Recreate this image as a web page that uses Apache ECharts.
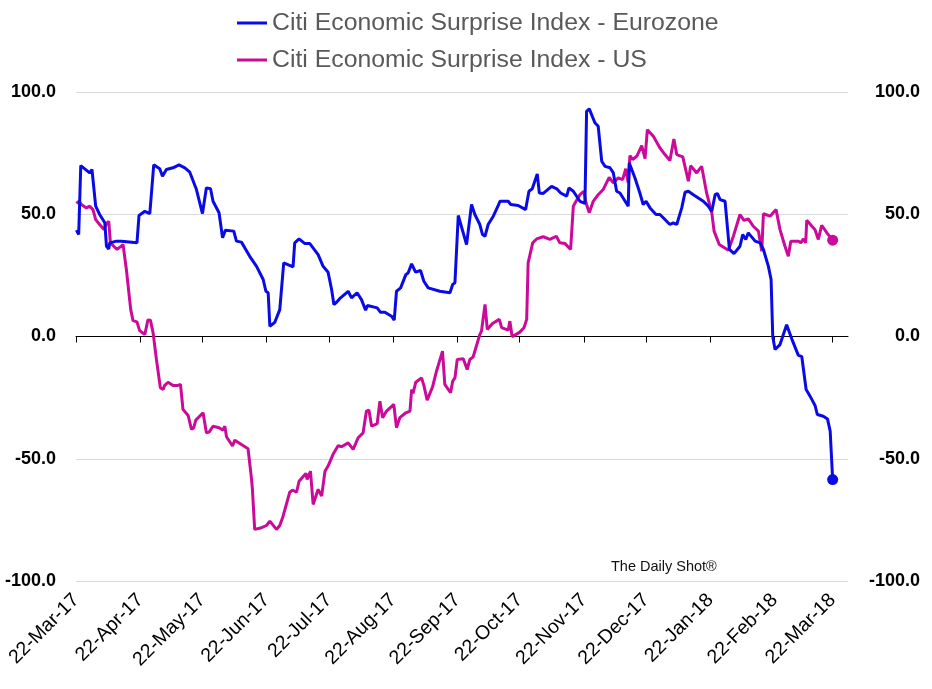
<!DOCTYPE html>
<html>
<head>
<meta charset="utf-8">
<script src="https://cdn.jsdelivr.net/npm/echarts@6/dist/echarts.min.js"></script>
<style>
html,body{margin:0;padding:0;background:#fff;}
#chart{width:932px;height:689px;}
</style>
</head>
<body>
<div id="chart"></div>
<script>
// Days since 22-Mar-2017 and index values
var euName = 'Citi Economic Surprise Index - Eurozone';
var usName = 'Citi Economic Surprise Index - US';

var euDays = [0.2,1.3,2.3,6.6,7.7,9.5,11.4,13.9,14.7,15.8,
16.3,19.5,21.9,29.4,30.4,33.2,35.6,37.5,40.4,41.7,
43.6,46.8,49.7,52.5,54.9,58.1,61.0,62.9,64.9,66.1,
69.0,70.7,72.1,76.1,77.4,79.8,83.8,87.1,90.3,91.6,
92.7,93.5,95.9,98.3,100.2,104.7,105.5,106.4,107.6,110.4,
112.8,116.8,119.2,121.6,123.3,124.4,125.7,127.6,131.3,132.9,
135.6,137.7,139.7,140.6,145.3,146.9,149.0,152.2,153.5,154.6,
156.6,159.1,160.2,161.9,163.8,166.2,167.8,169.9,175.5,180.4,
181.7,182.8,183.6,184.4,188.4,190.8,192.4,194.8,196.1,197.3,
198.8,201.3,203.7,204.5,208.5,209.7,213.3,216.9,218.5,220.1,
222.5,223.5,225.4,229.4,231.9,233.8,236.7,237.8,239.9,243.1,
245.5,246.3,247.6,250.3,251.9,253.6,255.2,257.6,259.2,260.8,
262.4,266.4,266.9,269.6,272.0,273.6,275.0,276.9,279.8,281.7,
286.5,288.1,289.8,292.2,293.8,295.4,297.8,302.6,305.0,306.7,
308.3,309.4,310.7,313.1,315.2,317.4,320.3,321.6,323.1,324.3,
327.6,330.0,331.6,334.0,335.3,336.1,337.2,339.6,342.8,345.7,
348.4,350.1,352.2,354.1,356.5,357.6,360.5,362.5,363.8,364.6,
365.0];
var euVals = [43.5,41.7,69.9,66.9,68.3,53.3,49.9,46.5,36.9,35.8,
38.3,39,39,38.3,49.5,51.2,50.3,70.2,68.6,65.5,
68.3,69,70.2,69,67.2,60.1,50.3,60.8,60.4,55.3,
50.6,40.4,43.5,43.1,39,38.6,32.8,28.7,23.3,18.5,
17.9,4.2,5.8,11,30.1,28.5,38.3,37.5,39.9,38,
38,33.5,28.7,26.3,19.2,13.1,14,15.8,18.5,15.8,
17.9,15.1,10.8,12.7,11.7,9.9,9.9,8.3,6.7,18.5,
19.9,25.3,26,29.7,26.3,27,22.6,19.9,18.5,17.9,
21.3,22,21.3,49.5,37.6,54,49.9,45.8,41.7,41,
45.8,49.2,53.6,55.3,55.3,54,53.6,51.9,59.4,60.4,
66.5,58.7,58.5,61.4,60.4,58.7,57.4,60.8,59.4,55.3,
54.4,92.1,93.1,87.4,86,71.7,69.6,69,66.9,59.4,
58.7,53.3,71,64.9,58.7,54,55.3,52.6,49.9,49.9,
45.8,46.5,45.8,52.6,59,59.4,58,55.3,53.3,51.2,
58,58.5,56,55.3,35.6,33.9,36.9,41.7,39.7,42.4,
39,38.3,35.6,28.7,23.3,0,-5.3,-3.3,4.8,-1.9,
-7.6,-8.2,-21.7,-24.4,-28.2,-31.9,-32.6,-33.7,-38.7,-39,
-58.5];

var usDays = [0.2,1.4,2.6,5.0,6.6,8.2,9.5,11.4,13.5,14.7,
15.8,16.6,19.8,22.7,24.3,26.4,27.5,29.4,30.7,33.2,
34.7,35.9,37.2,38.8,40.7,42.0,42.8,44.4,46.8,49.2,
50.4,51.6,54.1,55.7,56.8,57.8,61.3,62.9,64.2,66.1,
69.0,70.9,71.8,72.6,75.5,76.6,79.8,83.0,84.7,85.1,
86.2,89.5,91.9,93.5,96.7,98.3,99.9,103.1,104.4,106.4,
107.6,110.9,111.5,113.1,114.4,116.8,118.5,120.1,121.6,124.0,
126.5,128.1,131.3,133.7,136.1,138.5,140.1,141.3,142.6,145.3,
146.6,147.9,149.8,153.3,154.6,156.2,159.1,161.1,161.9,162.6,
163.9,166.7,167.8,169.4,172.0,173.9,176.8,177.9,180.7,181.7,
182.8,183.9,186.8,188.7,190.0,191.6,194.8,195.6,197.3,198.4,
200.9,204.2,205.3,208.5,209.3,210.4,214.1,216.1,217.4,218.1,
218.6,220.3,222.2,225.4,228.6,231.7,233.4,235.9,238.6,239.9,
241.2,243.1,245.0,246.0,247.6,249.5,251.9,254.3,257.2,259.2,
261.6,263.7,265.2,266.4,267.2,268.5,270.5,272.9,274.5,275.6,
278.5,281.7,284.1,286.5,288.4,289.8,292.7,295.4,296.5,299.4,
301.8,304.2,306.7,307.8,310.3,314.7,317.1,320.3,322.2,324.3,
326.7,329.2,330.8,331.6,334.8,337.7,339.6,342.0,343.6,344.8,
348.5,349.6,350.9,352.0,352.5,356.5,358.1,359.7,362.5,365.0];
var usVals = [54.4,55.3,54,52.6,53.3,51.9,47.8,45.8,43.7,46.2,
47.1,38.3,35.6,37.6,27.4,11,6.5,6,2.4,0.8,
6.8,6.7,1.5,-9.4,-21,-21.7,-20,-18.7,-20,-20,
-19.6,-29.8,-32.3,-38,-37.3,-34.2,-31.2,-39.4,-39.1,-36.7,
-37.3,-38.3,-36.7,-41,-44.8,-42.4,-44.2,-45.9,-58.5,-62.5,
-78.9,-78.2,-77.3,-75.5,-78.9,-77.3,-73.5,-63.7,-62.8,-63.7,
-59.2,-56,-58.5,-55.1,-68.7,-62.5,-65.3,-55.1,-53,-48.2,
-44.6,-45.1,-43.5,-46.2,-41.4,-39.4,-30.5,-30.1,-36.7,-35.6,
-26.5,-33.2,-30.5,-27.8,-37.3,-33.2,-31.2,-30.5,-21.7,-23.3,
-18.7,-16.9,-20,-26,-20.6,-14.2,-6,-19.6,-23,-18.3,
-16.9,-9.4,-9.1,-13.5,-9.4,-8.3,0.8,2.2,13.1,2.9,
5.3,7,3.6,2.6,6.3,-0.1,1.8,3.6,7,30.1,
30.8,38.3,39.9,40.8,39.7,41,38.3,38,35.6,53.3,
55.3,58,59.4,54.7,50.6,55.3,58,60.1,65.1,62.8,
64.9,64.2,68.6,62.8,74,72.4,73.7,78.1,72.7,84.6,
81.9,77.1,74.4,72,80.8,74.4,73.5,63.5,69.9,66.9,
69.6,58.7,50.6,43.1,37.6,35.3,41,49.9,47.5,48.1,
45.1,43.1,34.9,50.2,49.2,51.9,43.7,36.9,32.8,39,
39,38.3,39.9,38.3,47.5,43.7,39.7,45.5,42.1,39.4];

var xTickDays = [0,31,61,92,122,153,184,214,245,275,306,337,365];
var xTickLabels = ['22-Mar-17','22-Apr-17','22-May-17','22-Jun-17','22-Jul-17','22-Aug-17','22-Sep-17','22-Oct-17','22-Nov-17','22-Dec-17','22-Jan-18','22-Feb-18','22-Mar-18'];

function pairs(d, v){ var out=[]; for(var i=0;i<Math.min(d.length,v.length);i++){ out.push([d[i], v[i]]); } return out; }

var euColor = '#0a0ae6';
var usColor = '#cc0a99';
var font = '"Liberation Sans", Arial, sans-serif';

var chart = echarts.init(document.getElementById('chart'));
chart.setOption({
  animation: false,
  backgroundColor: '#ffffff',
  textStyle: {fontFamily: font},
  grid: {left: 76, right: 84, top: 92, bottom: 108, containLabel: false, outerBoundsMode: 'none'},
  legend: {
    orient: 'vertical', left: 232, top: 3,
    itemWidth: 30, itemHeight: 3, itemGap: 7,
    data: [{name: euName, icon: 'rect'}, {name: usName, icon: 'rect'}],
    textStyle: {fontSize: 24.8, color: '#595959', fontFamily: font, lineHeight: 30}
  },
  xAxis: {
    type: 'value', min: 0, max: 372.4,
    axisLine: {show: true, onZero: true, lineStyle: {color: '#000', width: 1}},
    axisTick: {show: true, length: 6, lineStyle: {color: '#000'}, customValues: xTickDays},
    axisLabel: {
      customValues: xTickDays, rotate: 45, margin: 16,
      fontSize: 19.5, color: '#000', fontFamily: font,
      formatter: function(v){ var i = xTickDays.indexOf(v); return i >= 0 ? xTickLabels[i] : ''; }
    },
    splitLine: {show: false}
  },
  yAxis: [{
    type: 'value', min: -100, max: 100, interval: 50, position: 'left',
    axisLine: {show: false}, axisTick: {show: false},
    splitLine: {show: true, lineStyle: {color: '#d9d9d9', width: 1}},
    axisLabel: {margin: 20, fontSize: 18, fontWeight: 'bold', color: '#000', fontFamily: font,
      formatter: function(v){ return v.toFixed(1); }}
  }, {
    type: 'value', min: -100, max: 100, interval: 50, position: 'right',
    axisLine: {show: false}, axisTick: {show: false}, splitLine: {show: false},
    axisLabel: {margin: 72, align: 'right', fontSize: 18, fontWeight: 'bold', color: '#000', fontFamily: font,
      formatter: function(v){ return v.toFixed(1); }}
  }],
  series: [{
    name: euName, type: 'line', data: pairs(euDays, euVals),
    symbol: 'none', showSymbol: false, color: euColor,
    lineStyle: {width: 3, color: euColor}, z: 3
  }, {
    name: usName, type: 'line', data: pairs(usDays, usVals),
    symbol: 'none', showSymbol: false, color: usColor,
    lineStyle: {width: 3, color: usColor}, z: 2
  }, {
    type: 'scatter', symbolSize: 11, itemStyle: {color: euColor, opacity: 1}, z: 4,
    data: [[euDays[euDays.length-1], euVals[euVals.length-1]]]
  }, {
    type: 'scatter', symbolSize: 11, itemStyle: {color: usColor, opacity: 1}, z: 4,
    data: [[usDays[usDays.length-1], usVals[usVals.length-1]]]
  }],
  graphic: [{
    type: 'text', left: 611, top: 559,
    style: {text: 'The Daily Shot®', fontSize: 14.5, fill: '#111', fontFamily: font}
  }]
});
</script>
</body>
</html>
